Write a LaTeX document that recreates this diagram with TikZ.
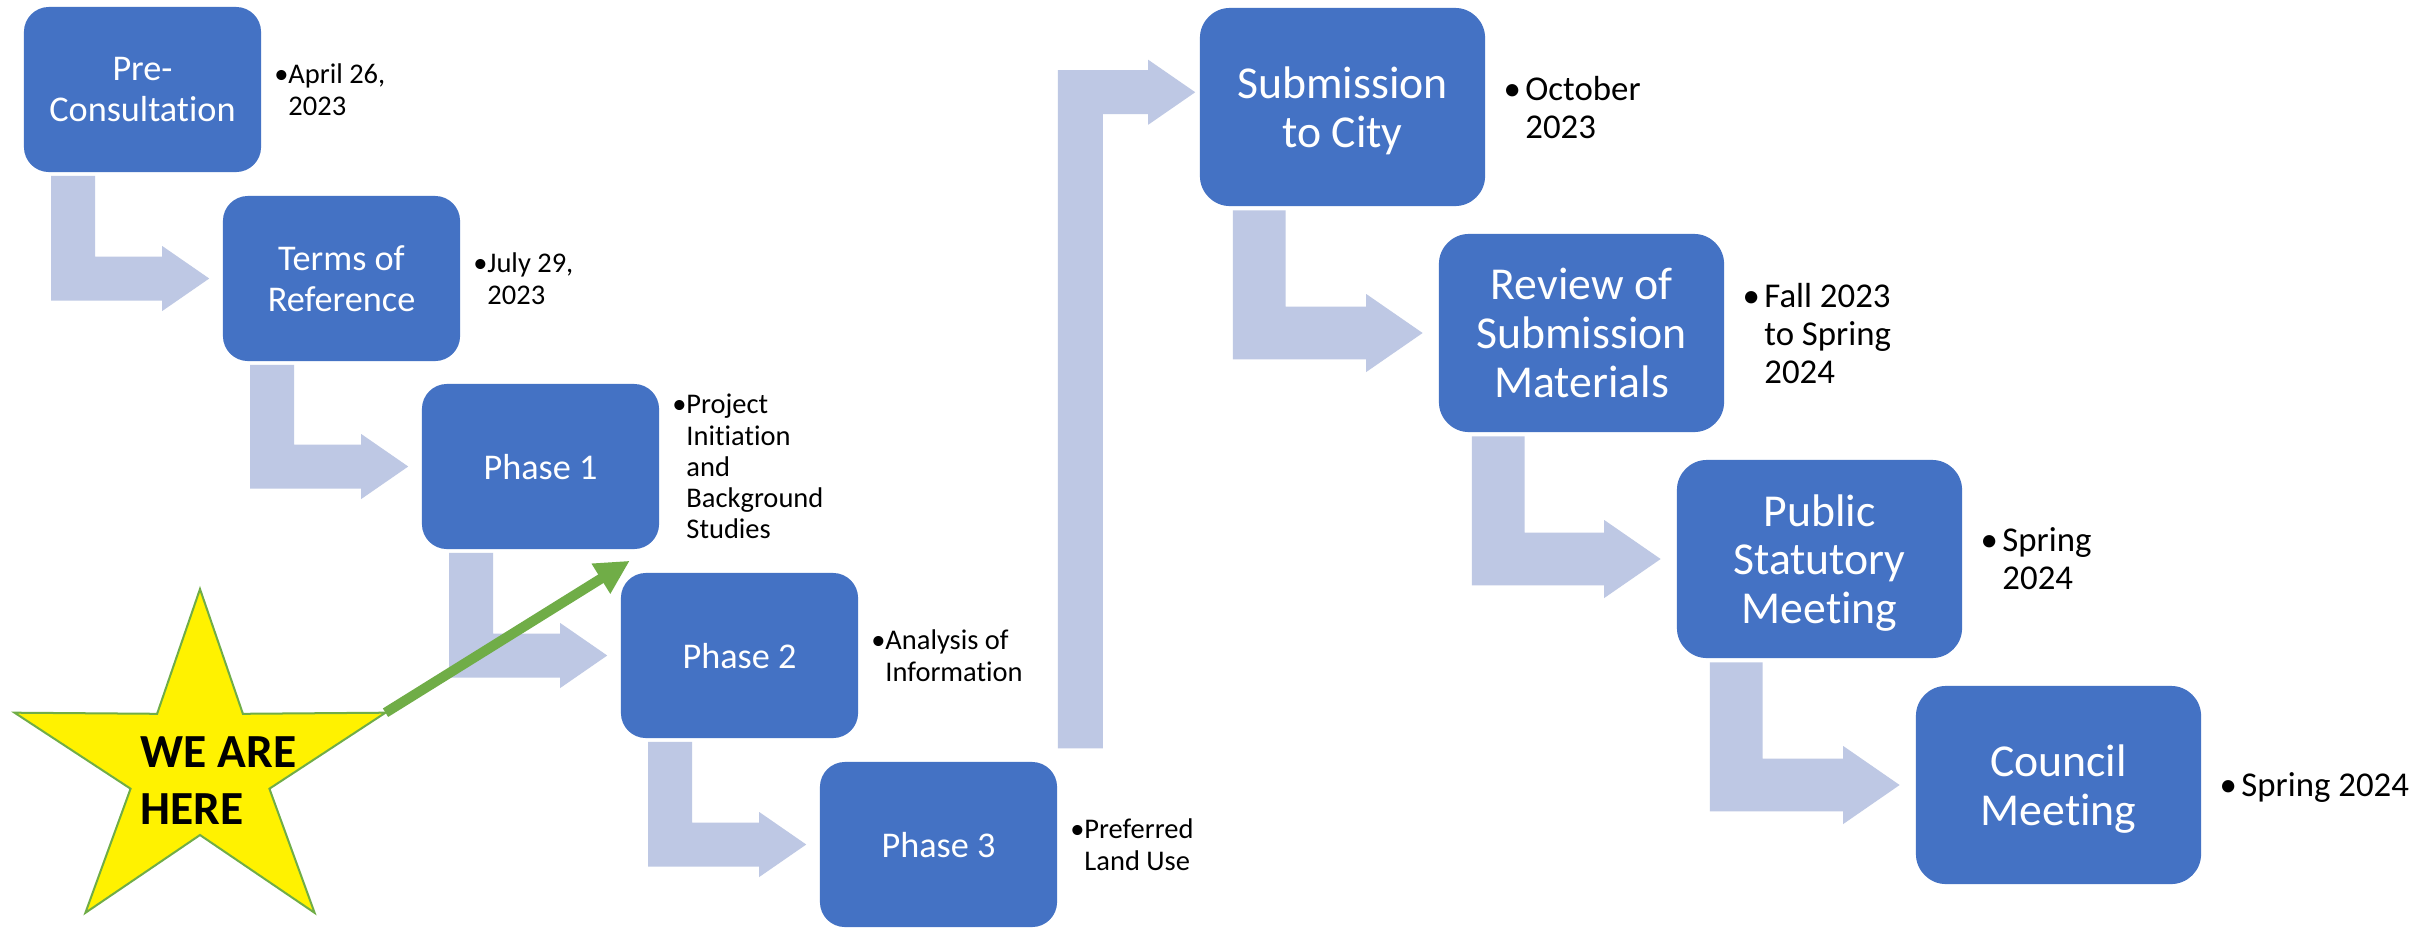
\documentclass[tikz,border=0pt]{standalone}
\usepackage{fontspec}
\setmainfont[Ligatures=NoCommon]{Carlito}
\usepackage{xcolor}
\usepackage{tikz}
\usetikzlibrary{calc,arrows.meta}

\definecolor{stageblue}{HTML}{4472C4}
\definecolor{flowblue}{HTML}{BEC8E4}
\definecolor{pointgreen}{HTML}{70AD47}

\newcommand{\litem}{\makebox[0.49em][l]{•}}
\newcommand{\lgap}{\makebox[0.49em]{}}
\newcommand{\ritem}{\makebox[0.63em][l]{•}}
\newcommand{\rgap}{\makebox[0.63em]{}}

\newcommand{\bentarrow}[3]{%
	\fill[flow] ($(#2.south west)+(28*#1,3*#1)$) -- ($(#2.south west)+(72*#1,3*#1)$)
		-- ($(#2.south west |- #3.west)+(72*#1,-22*#1)$) -- ($(#3.west)+(-60*#1,-22*#1)$)
		-- ($(#3.west)+(-60*#1,-32.5*#1)$) -- ($(#3.west)+(-13*#1,0)$)
		-- ($(#3.west)+(-60*#1,32.5*#1)$) -- ($(#3.west)+(-60*#1,22*#1)$)
		-- ($(#2.south west |- #3.west)+(28*#1,22*#1)$) -- cycle;%
}

\begin{document}
\begin{tikzpicture}[x=0.01cm, y=-0.01cm,
	stage/.style={fill=stageblue, rounded corners=0.25cm, minimum width=2.37cm, minimum height=1.65cm, inner sep=0pt, align=center, text=white, text depth=0pt, font=\fontsize{10.3}{11.6}\selectfont},
	bigstage/.style={stage, rounded corners=0.3cm, minimum width=2.85cm, minimum height=1.98cm, font=\fontsize{13}{13.9}\selectfont},
	note/.style={anchor=west, align=left, inner sep=0pt, text depth=0pt, font=\fontsize{8.1}{8.9}\selectfont},
	bignote/.style={note, font=\fontsize{9.9}{10.8}\selectfont},
	flow/.style={fill=flowblue},
	pointer/.style={draw=pointgreen, line width=0.1cm, -{Triangle[length=0.34cm, width=0.33cm]}}]
	\fill[white] (0,0) rectangle (2415,927);
	\useasboundingbox (0,0) rectangle (2415,927);

	\node[stage] (pre) at (142.5,89.5) {Pre-\\Consultation};
	\node[stage] (terms) at (341.5,278.5) {Terms of\\Reference};
	\node[stage] (phase1) at (540.5,466.5) {Phase 1};
	\node[stage] (phase2) at (739.5,655.5) {Phase 2};
	\node[stage] (phase3) at (938.5,844.5) {Phase 3};

	\node[bigstage] (submit) at (1342.5,107) {Submission\\to City};
	\node[bigstage] (review) at (1581.5,333) {Review of\\Submission\\Materials};
	\node[bigstage] (public) at (1819.5,559) {Public\\Statutory\\Meeting};
	\node[bigstage] (council) at (2058.5,785) {Council\\Meeting};

	\bentarrow{1}{pre}{terms}
	\bentarrow{1}{terms}{phase1}
	\bentarrow{1}{phase1}{phase2}
	\bentarrow{1}{phase2}{phase3}
	\bentarrow{1.2}{submit}{review}
	\bentarrow{1.2}{review}{public}
	\bentarrow{1.2}{public}{council}

	\fill[flow] ($(phase3.north east)+(0,-13)$) -- ($(phase3.north east)+(45,-13)$)
		-- ($(phase3.north east |- submit.north west)+(45,107)$) -- ($(submit.north west)+(-51,107)$)
		-- ($(submit.north west)+(-51,117.5)$) -- ($(submit.north west)+(-4,85)$)
		-- ($(submit.north west)+(-51,52.5)$) -- ($(submit.north west)+(-51,63)$)
		-- ($(phase3.north east |- submit.north west)+(0,63)$) -- cycle;

	\node[note] (prenote) at ($(pre.east)+(12,0)$) {\litem April 26,\\\lgap 2023};
	\node[note] (termsnote) at ($(terms.east)+(12,0)$) {\litem July 29,\\\lgap 2023};
	\node[note] (phase1note) at ($(phase1.east)+(12,0)$) {\litem Project\\\lgap Initiation\\\lgap and\\\lgap Background\\\lgap Studies};
	\node[note] (phase2note) at ($(phase2.east)+(12,0)$) {\litem Analysis of\\\lgap Information};
	\node[note] (phase3note) at ($(phase3.east)+(12,0)$) {\litem Preferred\\\lgap Land Use};

	\node[bignote] (submitnote) at ($(submit.east)+(17,0)$) {\ritem October\\\rgap 2023};
	\node[bignote] (reviewnote) at ($(review.east)+(17,0)$) {\ritem Fall 2023\\\rgap to Spring\\\rgap 2024};
	\node[bignote] (publicnote) at ($(public.east)+(17,0)$) {\ritem Spring\\\rgap 2024};
	\node[bignote] (councilnote) at ($(council.east)+(17,0)$) {\ritem Spring 2024};

	\filldraw[fill=yellow, draw=pointgreen, line width=0.02cm, shift={(200,768)}] (-90:195 and 179)
		\foreach \a in {-54,18,90,162,234} { -- (\a:73 and 67) -- (\a+36:195 and 179)} -- cycle;
	\node[anchor=west, align=left, inner sep=0pt, text depth=0pt, font=\bfseries\fontsize{13.5}{16.2}\selectfont] (here) at (140,780.5) {WE ARE\\HERE};

	\coordinate (startip) at (385.5,712.7);
	\coordinate (aim) at ($(phase1.south east)+(-30,11)$);
	\draw[pointer] (startip) -- (aim);
\end{tikzpicture}
\end{document}
